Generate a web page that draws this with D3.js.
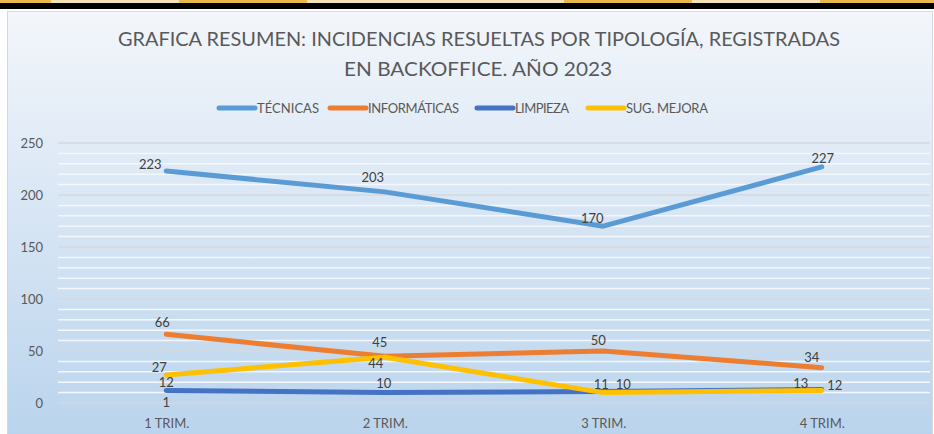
<!DOCTYPE html>
<html>
<head>
<meta charset="utf-8">
<script src="https://cdn.jsdelivr.net/npm/d3@7"></script>
<style>
  body { margin: 0; background: #fff; }
  text { font-family: Lato, "Open Sans", sans-serif; }
</style>
</head>
<body>
<svg id="chart" width="934" height="434"></svg>
<script>
// data
var categories = ["1 TRIM.", "2 TRIM.", "3 TRIM.", "4 TRIM."];
var seriesNames = ["TÉCNICAS", "INFORMÁTICAS", "LIMPIEZA", "SUG. MEJORA"];
var tecnicas = [223, 203, 170, 227];
var informaticas = [66, 45, 50, 34];
var limpieza = [12, 10, 11, 13];
var sugMejora = [27, 44, 10, 12];
// stray label sitting on the axis at 1 TRIM.
var extraLabels = [{ cat: "1 TRIM.", value: 1 }];
var yTicks = [0, 50, 100, 150, 200, 250];

// style
var colors = ["#5b9bd5", "#ed7d31", "#4472c4", "#ffc000"];
// label offsets from the point (dx, dy), one per point
var labelDx = [[-16, -12, -11, 1], [-4, -5, -5, -10], [0, -1, -2, -21], [-7, -9, 20, 13]];
var labelDy = [[-7, -14, -8, -8], [-12, -14, -11, -10], [-8, -9, -7, -6], [-7, 6, -8, -5]];

var svg = d3.select("#chart");
var defs = svg.append("defs");
var grad = defs.append("linearGradient").attr("id", "bg").attr("x1", 0).attr("y1", 0).attr("x2", 0).attr("y2", 1);
grad.append("stop").attr("offset", "0%").attr("stop-color", "#f3f6fb");
grad.append("stop").attr("offset", "35%").attr("stop-color", "#dfeaf6");
grad.append("stop").attr("offset", "100%").attr("stop-color", "#bad4ed");

// top band (frame of the sheet above the chart)
svg.append("rect").attr("x", 0).attr("y", 0).attr("width", 934).attr("height", 9).attr("fill", "#000");
var bandBlocks = [[0, 51, "#e9b84c"], [51, 179, "#f3e2b8"], [179, 307, "#e9b84c"], [307, 564, "#f3e2b8"],
                  [564, 692, "#e9b84c"], [692, 820, "#f3e2b8"], [820, 934, "#e9b84c"]];
svg.selectAll(".band").data(bandBlocks).enter().append("rect")
  .attr("x", d => d[0]).attr("y", 0).attr("width", d => d[1] - d[0]).attr("height", 3)
  .attr("fill", d => d[2]);

// chart area
svg.append("rect").attr("x", 7.5).attr("y", 11.5).attr("width", 925).attr("height", 424)
  .attr("fill", "url(#bg)").attr("stroke", "#d9d9d9");

var x = d3.scalePoint().domain(categories).range([57, 931]).padding(0.5);
var y = d3.scaleLinear().domain([0, 250]).range([403, 143]);

// gridlines: minor every 10 white, major every 50 grey
var minor = d3.range(0, 251, 10).filter(v => v % 50 != 0);
svg.append("g").selectAll("line").data(minor).enter().append("line")
  .attr("x1", 58).attr("x2", 930).attr("y1", d => y(d)).attr("y2", d => y(d))
  .attr("stroke", "#f4f8fc").attr("stroke-width", 1.5);
svg.append("g").selectAll("line").data(yTicks).enter().append("line")
  .attr("x1", 58).attr("x2", 930).attr("y1", d => y(d)).attr("y2", d => y(d))
  .attr("stroke", "#d4d8dd").attr("stroke-width", 1.5);

// axes
var yAxis = d3.axisLeft(y).tickValues(yTicks).tickSize(0).tickPadding(0);
var yg = svg.append("g").attr("transform", "translate(43,0)").call(yAxis);
yg.select(".domain").remove();
yg.selectAll("text").attr("fill", "#595959").style("font-size", "13px").attr("dy", "0.35em");

var xAxis = d3.axisBottom(x).tickSize(0).tickPadding(0);
var xg = svg.append("g").attr("transform", "translate(0,418)").call(xAxis);
xg.select(".domain").remove();
xg.selectAll("text").attr("fill", "#595959").style("font-size", "13px").attr("dy", "0.35em").attr("y", 5);

// title
svg.append("text").attr("x", 479).attr("y", 46).attr("text-anchor", "middle")
  .attr("fill", "#595959").style("font-size", "20px")
  .attr("textLength", 722).attr("lengthAdjust", "spacingAndGlyphs")
  .text("GRAFICA RESUMEN: INCIDENCIAS RESUELTAS POR TIPOLOGÍA, REGISTRADAS");
svg.append("text").attr("x", 478).attr("y", 76).attr("text-anchor", "middle")
  .attr("fill", "#595959").style("font-size", "20px")
  .attr("textLength", 268).attr("lengthAdjust", "spacingAndGlyphs")
  .text("EN BACKOFFICE. AÑO 2023");

// legend
var legendX = [219, 330, 477, 588];
var legendW = [62, 91, 54, 82];
var lg = svg.append("g").selectAll("g").data(seriesNames).enter().append("g")
  .attr("transform", (d, i) => "translate(" + legendX[i] + ",108)");
lg.append("line").attr("x1", 0).attr("x2", 36).attr("y1", 0).attr("y2", 0)
  .attr("stroke", (d, i) => colors[i]).attr("stroke-width", 5).attr("stroke-linecap", "round");
lg.append("text").attr("x", 38).attr("y", 0).attr("dy", "0.35em")
  .attr("textLength", (d, i) => legendW[i]).attr("lengthAdjust", "spacing")
  .attr("fill", "#595959").style("font-size", "13px").text(d => d);

// lines
var allSeries = [tecnicas, informaticas, limpieza, sugMejora];
var line = d3.line().x((d, i) => x(categories[i])).y(d => y(d));
svg.append("g").selectAll("path").data(allSeries).enter().append("path")
  .attr("d", d => line(d)).attr("fill", "none")
  .attr("stroke", (d, i) => colors[i]).attr("stroke-width", 5)
  .attr("stroke-linecap", "round").attr("stroke-linejoin", "round");

// data labels
var labels = [];
allSeries.forEach(function(s, si) {
  s.forEach(function(v, ci) {
    labels.push({ cat: categories[ci], value: v, dx: labelDx[si][ci], dy: labelDy[si][ci] });
  });
});
extraLabels.forEach(d => labels.push({ cat: d.cat, value: d.value, dx: 0, dy: 0 }));
svg.append("g").selectAll("text").data(labels).enter().append("text")
  .attr("x", d => x(d.cat) + d.dx).attr("y", d => y(d.value) + d.dy)
  .attr("dy", "0.35em").attr("text-anchor", "middle")
  .attr("fill", "#404040").style("font-size", "13px").text(d => d.value);
</script>
</body>
</html>
